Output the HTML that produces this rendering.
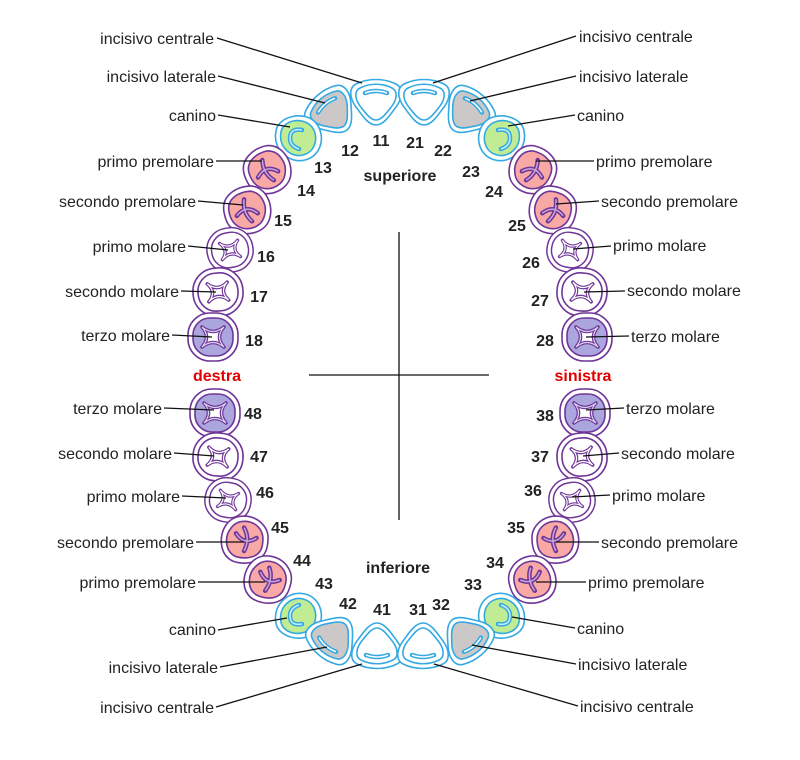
<!DOCTYPE html>
<html><head><meta charset="utf-8"><style>
html,body{margin:0;padding:0;background:#fff}
svg{display:block}
text{font-family:"Liberation Sans",sans-serif;fill:#222}
.l{font-size:16px}
.n{font-size:16px;font-weight:bold;fill:#111}
.ln{stroke:#111;stroke-width:1.3;fill:none}
</style></head><body>
<svg width="800" height="760" viewBox="0 0 800 760" xmlns="http://www.w3.org/2000/svg">
<defs>
<g id="central">
 <path d="M-20,-19 C-8,-25 8,-25 20,-19 C28,-15 26,-4 20,4 C14,12 8,22 0,22 C-8,22 -14,12 -20,4 C-26,-4 -28,-15 -20,-19Z" fill="#fff" stroke="#35a9e1" stroke-width="1.6"/>
 <path d="M-16,-15 C-6,-20 6,-20 16,-15 C22,-12 21,-4 16,3 C11,9 6,17 0,17 C-6,17 -11,9 -16,3 C-21,-4 -22,-12 -16,-15Z" fill="#fff" stroke="#35a9e1" stroke-width="1.6"/>
 <path d="M-11,-10 Q0,-14 11,-10" fill="none" stroke="#35a9e1" stroke-width="4.5" stroke-linecap="round"/>
 <path d="M-11,-10 Q0,-14 11,-10" fill="none" stroke="#fff" stroke-width="1.5"/>
</g>
<g id="lateral">
 <path d="M-20,-19 C-8,-25 8,-25 20,-19 C28,-15 26,-4 20,4 C14,12 8,22 0,22 C-8,22 -14,12 -20,4 C-26,-4 -28,-15 -20,-19Z" fill="#fff" stroke="#35a9e1" stroke-width="1.6"/>
 <path d="M-16,-15 C-6,-20 6,-20 16,-15 C22,-12 21,-4 16,3 C11,9 6,17 0,17 C-6,17 -11,9 -16,3 C-21,-4 -22,-12 -16,-15Z" fill="#ccc8c8" stroke="#35a9e1" stroke-width="1.6"/>
 <path d="M-11,-10 Q0,-14 11,-10" fill="none" stroke="#35a9e1" stroke-width="4.5" stroke-linecap="round"/>
 <path d="M-11,-10 Q0,-14 11,-10" fill="none" stroke="#fff" stroke-width="1.5"/>
</g>
<g id="canine">
 <path d="M-21,-6 C-19,-21 8,-27 19,-14 C29,-2 25,19 8,23 C-6,27 -25,14 -21,-6Z" fill="#fff" stroke="#35a9e1" stroke-width="1.6"/>
 <path d="M-16,-5 C-14,-17 6,-21 15,-10 C22,-1 19,15 6,18 C-5,21 -19,11 -16,-5Z" fill="#c0ec94" stroke="#35a9e1" stroke-width="1.6"/>
 <path d="M5,-7 Q-7,-9 -7,1 Q-7,9 2,12" fill="none" stroke="#35a9e1" stroke-width="4.5" stroke-linecap="round"/>
 <path d="M5,-7 Q-7,-9 -7,1 Q-7,9 2,12" fill="none" stroke="#c8eefa" stroke-width="1.5"/>
</g>
<g id="premolar">
 <path d="M-23,-2 C-23,-19 -6,-25 8,-23 C23,-19 27,0 21,12 C15,25 -4,27 -14,19 C-21,14 -23,8 -23,-2Z" fill="#fff" stroke="#6f3597" stroke-width="1.6"/>
 <path d="M-18,-2 C-18,-15 -5,-19 6,-18 C18,-15 21,0 16,9 C11,20 -3,21 -11,15 C-16,11 -18,6 -18,-2Z" fill="#f8a9a6" stroke="#6f3597" stroke-width="1.6"/>
 <path d="M-1,-11 Q-5,2 3,12 M-11,4 Q0,-6 10,5" fill="none" stroke="#6f3597" stroke-width="4.5" stroke-linecap="round"/>
 <path d="M-1,-11 Q-5,2 3,12 M-11,4 Q0,-6 10,5" fill="none" stroke="#c9a6d8" stroke-width="1.5"/>
</g>
<g id="molar">
 <rect x="-25" y="-24" width="50" height="48" rx="23" fill="#fff" stroke="#6f3597" stroke-width="1.6"/>
 <rect x="-20" y="-19" width="40" height="38" rx="18" fill="#fff" stroke="#6f3597" stroke-width="1.6"/>
 <path d="M-10,-9 Q0,0 10,-9 Q1,0 10,9 Q0,0 -10,9 Q-1,0 -10,-9Z" fill="#fff" stroke="#6f3597" stroke-width="3.5" stroke-linejoin="round"/>
 <path d="M-10,-9 Q0,0 10,-9 Q1,0 10,9 Q0,0 -10,9 Q-1,0 -10,-9Z" fill="none" stroke="#fff" stroke-width="1.2"/>
</g>
<g id="molar3">
 <rect x="-25" y="-24" width="50" height="48" rx="22" fill="#fff" stroke="#6f3597" stroke-width="1.6"/>
 <rect x="-20" y="-19" width="40" height="38" rx="17" fill="#aba6de" stroke="#6f3597" stroke-width="1.6"/>
 <path d="M-11,-10 Q0,-1 11,-10 Q2,0 11,10 Q0,1 -11,10 Q-2,0 -11,-10Z" fill="#fff" stroke="#6f3597" stroke-width="3.5" stroke-linejoin="round"/>
 <path d="M-11,-10 Q0,-1 11,-10 Q2,0 11,10 Q0,1 -11,10 Q-2,0 -11,-10Z" fill="none" stroke="#d8d0f0" stroke-width="1.2"/>
</g>
</defs>
<g id="left">
 <use href="#central" transform="translate(376,103)"/>
 <use href="#lateral" transform="translate(333,113) rotate(-40)"/>
 <use href="#canine" transform="translate(297,137)"/>
 <use href="#premolar" transform="translate(267,170) rotate(-20)"/>
 <use href="#premolar" transform="translate(247,210) rotate(-10)"/>
 <use href="#molar" transform="translate(230,250) rotate(-10) scale(0.92)"/>
 <use href="#molar" transform="translate(218,292) rotate(-5)"/>
 <use href="#molar3" transform="translate(213,337)"/>
 <use href="#molar3" transform="translate(215,413)"/>
 <use href="#molar" transform="translate(218,457) rotate(5)"/>
 <use href="#molar" transform="translate(228,500) rotate(10) scale(0.92)"/>
 <use href="#premolar" transform="translate(245,540) rotate(190)"/>
 <use href="#premolar" transform="translate(268,580) rotate(200)"/>
 <use href="#canine" transform="translate(297,617) scale(1,-1)"/>
 <use href="#lateral" transform="translate(334,637) rotate(40) scale(1,-1)"/>
 <use href="#central" transform="translate(377,645) scale(1,-1)"/>
</g>
<use href="#left" transform="translate(800,0) scale(-1,1)"/>

<line x1="399" y1="232" x2="399" y2="520" class="ln"/>
<line x1="309" y1="375" x2="489" y2="375" class="ln"/>

<g class="l" text-anchor="end">
<text x="214" y="44">incisivo centrale</text>
<text x="216" y="82">incisivo laterale</text>
<text x="216" y="121">canino</text>
<text x="214" y="167">primo premolare</text>
<text x="196" y="207">secondo premolare</text>
<text x="186" y="252">primo molare</text>
<text x="179" y="297">secondo molare</text>
<text x="170" y="341">terzo molare</text>
<text x="162" y="414">terzo molare</text>
<text x="172" y="459">secondo molare</text>
<text x="180" y="502">primo molare</text>
<text x="194" y="548">secondo premolare</text>
<text x="196" y="588">primo premolare</text>
<text x="216" y="635">canino</text>
<text x="218" y="673">incisivo laterale</text>
<text x="214" y="713">incisivo centrale</text>
</g>
<g class="l">
<text x="579" y="42">incisivo centrale</text>
<text x="579" y="82">incisivo laterale</text>
<text x="577" y="121">canino</text>
<text x="596" y="167">primo premolare</text>
<text x="601" y="207">secondo premolare</text>
<text x="613" y="251">primo molare</text>
<text x="627" y="296">secondo molare</text>
<text x="631" y="342">terzo molare</text>
<text x="626" y="414">terzo molare</text>
<text x="621" y="459">secondo molare</text>
<text x="612" y="501">primo molare</text>
<text x="601" y="548">secondo premolare</text>
<text x="588" y="588">primo premolare</text>
<text x="577" y="634">canino</text>
<text x="578" y="670">incisivo laterale</text>
<text x="580" y="712">incisivo centrale</text>
</g>
<g class="ln">
<path d="M217,38 L362,83 M218,76 L325,103 M218,115 L290,127 M216,161 L262,161 M198,201 L243,205 M188,246 L228,250 M181,291 L216,292 M172,335 L212,337"/>
<path d="M164,408 L214,410 M174,453 L214,456 M182,496 L226,498 M196,542 L244,542 M198,582 L265,582 M218,630 L287,618 M220,667 L327,647 M216,707 L362,664"/>
<path d="M576,36 L433,83 M576,76 L470,101 M575,115 L508,126 M594,161 L536,161 M599,201 L556,204 M611,246 L573,249 M625,291 L584,292 M629,336 L586,337"/>
<path d="M624,408 L586,410 M619,453 L583,456 M610,495 L572,497 M599,542 L556,542 M586,582 L536,582 M575,628 L512,617 M576,664 L472,645 M578,706 L434,664"/>
</g>

<g class="n" text-anchor="middle">
<text x="381" y="146">11</text><text x="350" y="156">12</text><text x="323" y="173">13</text><text x="306" y="196">14</text>
<text x="283" y="226">15</text><text x="266" y="262">16</text><text x="259" y="302">17</text><text x="254" y="346">18</text>
<text x="415" y="148">21</text><text x="443" y="156">22</text><text x="471" y="177">23</text><text x="494" y="197">24</text>
<text x="517" y="231">25</text><text x="531" y="268">26</text><text x="540" y="306">27</text><text x="545" y="346">28</text>
<text x="253" y="419">48</text><text x="259" y="462">47</text><text x="265" y="498">46</text><text x="280" y="533">45</text>
<text x="302" y="566">44</text><text x="324" y="589">43</text><text x="348" y="609">42</text><text x="382" y="615">41</text>
<text x="418" y="615">31</text><text x="441" y="610">32</text><text x="473" y="590">33</text><text x="495" y="568">34</text>
<text x="516" y="533">35</text><text x="533" y="496">36</text><text x="540" y="462">37</text><text x="545" y="421">38</text>
<text x="400" y="181">superiore</text>
<text x="398" y="573">inferiore</text>
<text x="217" y="381" style="fill:#e30000">destra</text>
<text x="583" y="381" style="fill:#e30000">sinistra</text>
</g>
</svg>
</body></html>
